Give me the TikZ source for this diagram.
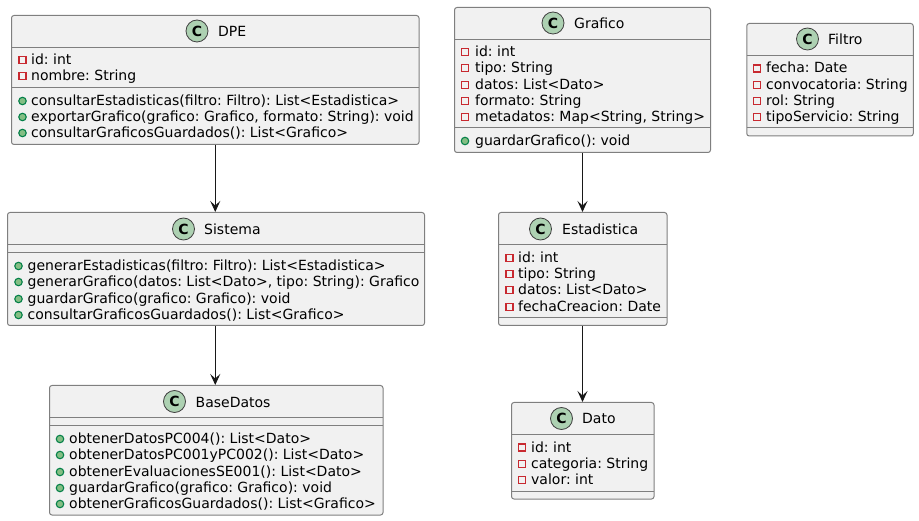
\documentclass[tikz,border=0pt]{standalone}
\usepackage{fontspec}
\setmainfont{DejaVu Sans}
\usetikzlibrary{arrows.meta}

\definecolor{boxfill}{HTML}{F1F1F1}
\definecolor{boxline}{HTML}{7F7F7F}
\definecolor{arrowline}{HTML}{181818}
\definecolor{spotfill}{HTML}{ADD1B2}
\definecolor{privred}{HTML}{C82930}
\definecolor{pubfill}{HTML}{84BE84}
\definecolor{publine}{HTML}{038048}

\tikzset{
  classbox/.style={draw=boxline, fill=boxfill, line width=1pt, rounded corners=2.5pt, inner sep=0pt},
  classspot/.style={circle, draw=black!75, fill=spotfill, line width=0.8pt, minimum size=22pt, inner sep=0pt,
    font=\fontsize{14}{14}\selectfont\bfseries},
  classname/.style={anchor=west, inner sep=0pt, text height=14pt, text depth=3pt, font=\fontsize{14}{16}\selectfont\frenchspacing},
  member/.style={classname},
  privicon/.style={rectangle, draw=privred, line width=1.1pt, minimum size=7pt, inner sep=0pt, yshift=-1pt},
  pubicon/.style={circle, draw=publine, fill=pubfill, line width=1.1pt, minimum size=7.5pt, inner sep=0pt, yshift=-1pt},
  divider/.style={draw=boxline, line width=1pt}
}

% #1 class, #2 icon x, #3 text x, #4 rows
\newcommand{\privrows}[4]{
  \foreach \rowy/\rowtxt in {#4} {
    \node[privicon] (#1i\rowy) at (#2,\rowy) {};
    \node[member] (#1t\rowy) at (#3,\rowy) {\rowtxt};
  }
}
\newcommand{\pubrows}[4]{
  \foreach \rowy/\rowtxt in {#4} {
    \node[pubicon] (#1i\rowy) at (#2,\rowy) {};
    \node[member] (#1t\rowy) at (#3,\rowy) {\rowtxt};
  }
}

\begin{document}
\begin{tikzpicture}[x=1pt,y=-1pt,>={Stealth[length=11pt,width=10pt,inset=4.5pt]}]
  \useasboundingbox (0,0) rectangle (919,521);

  % boxes
  \node[classbox, minimum width=407.5pt, minimum height=129pt] (dpe) at (215.25,80) {};
  \node[classbox, minimum width=417pt, minimum height=113pt] (sistema) at (216,269) {};
  \node[classbox, minimum width=333.5pt, minimum height=129.5pt] (basedatos) at (216.25,450.25) {};
  \node[classbox, minimum width=256pt, minimum height=145pt] (grafico) at (582.5,80) {};
  \node[classbox, minimum width=168.5pt, minimum height=113pt] (estadistica) at (582.75,269) {};
  \node[classbox, minimum width=142.5pt, minimum height=96.5pt] (dato) at (582.75,450.75) {};
  \node[classbox, minimum width=166.5pt, minimum height=112.5pt] (filtro) at (830,79.75) {};

  % dividers
  \draw[divider] (11.5,47.5) -- (419,47.5) (11.5,87.5) -- (419,87.5);
  \draw[divider] (7.5,244.5) -- (424.5,244.5) (7.5,252.5) -- (424.5,252.5);
  \draw[divider] (49.5,417.5) -- (383,417.5) (49.5,425.5) -- (383,425.5);
  \draw[divider] (454.5,39.5) -- (710.5,39.5) (454.5,128) -- (710.5,128);
  \draw[divider] (498.5,244.5) -- (667,244.5) (498.5,317.5) -- (667,317.5);
  \draw[divider] (511.5,434.5) -- (654,434.5) (511.5,491.5) -- (654,491.5);
  \draw[divider] (746.5,55.5) -- (913,55.5) (746.5,128) -- (913,128);

  % headers
  \node[classspot] (dpespot) at (197,31) {C};
  \node[classname] (dpename) at (218,31) {DPE};
  \node[classspot] (sistemaspot) at (183.5,229) {C};
  \node[classname] (sistemaname) at (204,229) {Sistema};
  \node[classspot] (basedatosspot) at (174.5,401.5) {C};
  \node[classname] (basedatosname) at (195.5,401.5) {BaseDatos};
  \node[classspot] (graficospot) at (553,23) {C};
  \node[classname] (graficoname) at (574,23) {Grafico};
  \node[classspot] (estadisticaspot) at (540.5,229) {C};
  \node[classname] (estadisticaname) at (562,229) {Estadistica};
  \node[classspot] (datospot) at (561.5,418.5) {C};
  \node[classname] (datoname) at (582,418.5) {Dato};
  \node[classspot] (filtrospot) at (807.5,39) {C};
  \node[classname] (filtroname) at (828,39) {Filtro};

  % members
  \privrows{dpe}{22.5}{31}{59/{id: int},75/{nombre: String}}
  \pubrows{dpe}{22.5}{31}{100/{consultarEstadisticas(filtro: Filtro): List<Estadistica>},
    116/{exportarGrafico(grafico: Grafico, formato: String): void},
    132/{consultarGraficosGuardados(): List<Grafico>}}
  \pubrows{sistema}{18.5}{27.5}{265/{generarEstadisticas(filtro: Filtro): List<Estadistica>},
    281/{generarGrafico(datos: List<Dato>, tipo: String): Grafico},
    298/{guardarGrafico(grafico: Grafico): void},
    314/{consultarGraficosGuardados(): List<Grafico>}}
  \pubrows{basedatos}{60}{69}{438/{obtenerDatosPC004(): List<Dato>},
    454/{obtenerDatosPC001yPC002(): List<Dato>},
    471/{obtenerEvaluacionesSE001(): List<Dato>},
    487/{guardarGrafico(grafico: Grafico): void},
    503/{obtenerGraficosGuardados(): List<Grafico>}}
  \privrows{grafico}{465}{475}{51/{id: int},67/{tipo: String},84/{datos: List<Dato>},
    100/{formato: String},116/{metadatos: Map<String, String>}}
  \pubrows{grafico}{465}{475}{140/{guardarGrafico(): void}}
  \privrows{estadistica}{509.5}{518}{257/{id: int},273/{tipo: String},289/{datos: List<Dato>},
    306/{fechaCreacion: Date}}
  \privrows{dato}{522}{531}{446.5/{id: int},463/{categoria: String},479/{valor: int}}
  \privrows{filtro}{757}{766}{67.5/{fecha: Date},84/{convocatoria: String},100/{rol: String},
    116/{tipoServicio: String}}

  % arrows
  \draw[->, arrowline, line width=1pt] (dpe.south) -- (dpe.south |- sistema.north);
  \draw[->, arrowline, line width=1pt] (dpe.south |- sistema.south) -- (dpe.south |- basedatos.north);
  \draw[->, arrowline, line width=1pt] (grafico.south) -- (grafico.south |- estadistica.north);
  \draw[->, arrowline, line width=1pt] (grafico.south |- estadistica.south) -- (grafico.south |- dato.north);
\end{tikzpicture}
\end{document}
